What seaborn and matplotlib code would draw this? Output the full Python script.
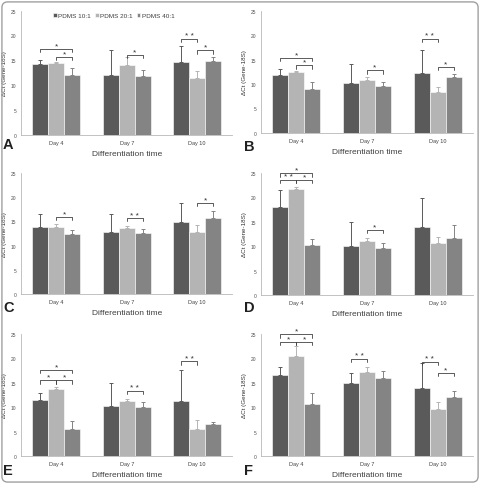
import matplotlib
matplotlib.use("Agg")
import matplotlib.pyplot as plt
from matplotlib.patches import FancyBboxPatch
import seaborn as sns
import pandas as pd

# groups and series
days = ["Day 4", "Day 7", "Day 10"]
ratios = ["PDMS 10:1", "PDMS 20:1", "PDMS 40:1"]
colors = ["#5a5a5a", "#b4b4b4", "#848484"]

# bar heights per panel, rows = ratio, cols = day
mean_A = [[14.2, 12.0, 14.6], [14.4, 14.0, 11.4], [12.1, 11.8, 14.8]]
mean_B = [[11.9, 10.1, 12.3], [12.5, 10.9, 8.4], [9.0, 9.6, 11.5]]
mean_C = [[13.8, 12.8, 14.9], [13.8, 13.6, 12.9], [12.3, 12.6, 15.7]]
mean_D = [[18.1, 10.1, 13.9], [21.7, 11.0, 10.6], [10.2, 9.7, 11.7]]
mean_E = [[11.5, 10.3, 11.2], [13.7, 11.2, 5.5], [5.6, 10.0, 6.6]]
mean_F = [[16.6, 14.9, 14.0], [20.6, 17.2, 9.7], [10.7, 16.0, 12.0]]

# upper error (SD) per panel
err_A = [[0.8, 5.0, 3.2], [0.2, 1.6, 1.4], [1.4, 1.3, 0.9]]
err_B = [[1.1, 3.9, 4.6], [0.2, 0.6, 0.9], [1.4, 0.8, 0.6]]
err_C = [[2.7, 3.7, 3.9], [0.6, 0.4, 1.3], [1.0, 0.8, 1.5]]
err_D = [[3.4, 4.8, 6.0], [0.5, 0.6, 1.2], [1.3, 0.9, 2.6]]
err_E = [[1.4, 4.7, 6.5], [0.5, 0.5, 1.9], [1.5, 1.1, 0.4]]
err_F = [[1.6, 2.1, 5.0], [1.9, 1.1, 1.3], [2.3, 1.4, 1.4]]

# significance brackets: (day index, ratio i, ratio j, height, label)
sig_A = [(0, 0, 2, 17.3, "*"), (0, 1, 2, 15.7, "*"), (1, 1, 2, 16.1, "*"),
         (2, 0, 1, 19.3, "* *"), (2, 1, 2, 17.0, "*")]
sig_B = [(0, 0, 2, 15.3, "*"), (0, 1, 2, 13.8, "*"), (1, 1, 2, 12.8, "*"),
         (2, 0, 1, 19.3, "* *"), (2, 1, 2, 13.5, "*")]
sig_C = [(0, 1, 2, 16.0, "*"), (1, 1, 2, 15.7, "* *"), (2, 1, 2, 18.9, "*")]
sig_D = [(0, 0, 2, 25.0, "*"), (0, 0, 1, 23.6, "* *"), (0, 1, 2, 23.6, "*"),
         (1, 1, 2, 13.3, "*")]
sig_E = [(0, 0, 2, 17.7, "*"), (0, 0, 1, 15.5, "*"), (0, 1, 2, 15.5, "*"),
         (1, 1, 2, 13.4, "* *"), (2, 0, 1, 19.4, "* *")]
sig_F = [(0, 0, 2, 25.0, "*"), (0, 0, 1, 23.4, "*"), (0, 1, 2, 23.4, "*"),
         (1, 0, 1, 19.9, "* *"), (2, 0, 1, 19.3, "* *"), (2, 1, 2, 17.1, "*")]

panels = {
    "A": (mean_A, err_A, sig_A),
    "B": (mean_B, err_B, sig_B),
    "C": (mean_C, err_C, sig_C),
    "D": (mean_D, err_D, sig_D),
    "E": (mean_E, err_E, sig_E),
    "F": (mean_F, err_F, sig_F),
}

# axes rectangles [left, bottom, width, height] in figure fraction
boxes = {
    "A": [0.044, 0.720, 0.439, 0.256],
    "B": [0.543, 0.724, 0.440, 0.252],
    "C": [0.044, 0.392, 0.439, 0.249],
    "D": [0.543, 0.390, 0.440, 0.251],
    "E": [0.044, 0.058, 0.439, 0.251],
    "F": [0.543, 0.058, 0.440, 0.251],
}
letter_pos = {"A": (0.006, 0.686), "B": (0.508, 0.682),
              "C": (0.006, 0.350), "D": (0.508, 0.350),
              "E": (0.006, 0.014), "F": (0.508, 0.014)}

sns.set_style("white")
plt.rcParams["font.family"] = ["Liberation Sans", "DejaVu Sans"]

fig = plt.figure(figsize=(4.81, 4.85), dpi=100)
fig.patches.append(FancyBboxPatch((0.004, 0.004), 0.99, 0.99,
                                  boxstyle="round,pad=0,rounding_size=0.012",
                                  transform=fig.transFigure, fill=False,
                                  edgecolor="#a0a0a0", linewidth=1.0))

for name, (means, errs, sigs) in panels.items():
    ax = fig.add_axes(boxes[name])
    rows = []
    for r, ratio in enumerate(ratios):
        for d, day in enumerate(days):
            rows.append({"Day": day, "Ratio": ratio, "value": means[r][d]})
    df = pd.DataFrame(rows)
    sns.barplot(data=df, x="Day", y="value", hue="Ratio", order=days,
                hue_order=ratios, palette=colors, width=0.68, errorbar=None,
                edgecolor="white", linewidth=0.4, saturation=1,
                legend=(name == "A"), ax=ax)

    # bar centers from the library's own layout
    bar_conts = list(ax.containers)
    centers = []
    for r, cont in enumerate(bar_conts):
        xs = [p.get_x() + p.get_width() / 2 for p in cont.patches]
        hs = [p.get_height() for p in cont.patches]
        centers.append(xs)
        ax.errorbar(xs, hs, yerr=[[0] * len(xs), errs[r]], fmt="none",
                    ecolor=colors[r], elinewidth=0.7, capsize=1.6,
                    capthick=0.7)

    for d, i, j, y, lab in sigs:
        x1, x2 = centers[i][d], centers[j][d]
        ax.plot([x1, x1, x2, x2], [y - 0.7, y, y, y - 0.7], color="#404040",
                linewidth=0.6, clip_on=False)
        ax.text((x1 + x2) / 2, y - 0.1, lab, ha="center", va="bottom",
                fontsize=6, color="#303030", clip_on=False)

    ax.set_ylim(0, 25)
    ax.set_xlim(-0.5, 2.5)
    ax.set_yticks([0, 5, 10, 15, 20, 25])
    ax.set_ylabel("ΔCt (Gene-18S)", fontsize=4.5, color="#303030", labelpad=3)
    ax.set_xlabel("Differentiation time", fontsize=6, color="#404040",
                  labelpad=3)
    sns.despine(ax=ax)
    for s in ["left", "bottom"]:
        ax.spines[s].set_color("#b8b8b8")
        ax.spines[s].set_linewidth(0.6)
    ax.tick_params(axis="y", length=2, width=0.5, color="#b8b8b8",
                   labelsize=3.5, labelcolor="#505050", pad=1.5)
    ax.tick_params(axis="x", length=0, labelsize=4, labelcolor="#404040",
                   pad=4)

    if name == "A":
        h, l = ax.get_legend_handles_labels()
        ax.legend(h, l, ncol=3, loc="upper center", bbox_to_anchor=(0.44, 1.03),
                  frameon=False, fontsize=4.6, handlelength=0.55,
                  handleheight=0.55, handletextpad=0.3, columnspacing=0.6,
                  labelcolor="#404040")

    lx, ly = letter_pos[name]
    fig.text(lx, ly, name, fontsize=10.5, fontweight="bold", color="#202020",
             ha="left", va="bottom")

fig.savefig("out.png", dpi=100)
